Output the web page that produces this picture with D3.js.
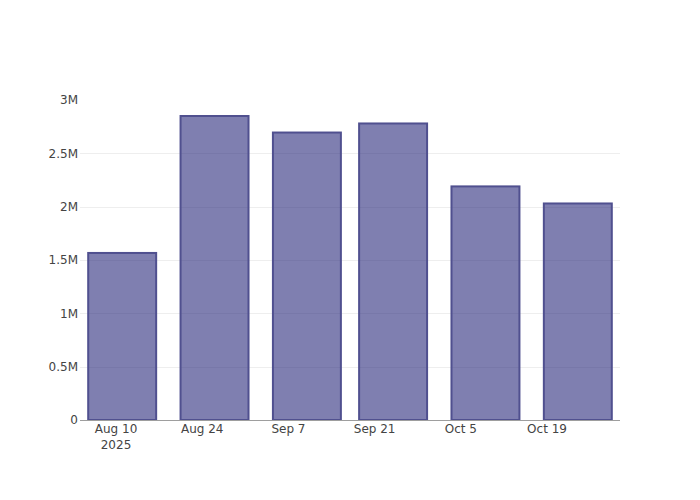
<!DOCTYPE html>
<html>
<head>
<meta charset="utf-8">
<script src="https://cdn.jsdelivr.net/npm/d3@7"></script>
<style>
  html, body { margin: 0; padding: 0; background: #fff; }
  svg { display: block; }
</style>
</head>
<body>
<svg id="chart" width="700" height="500"></svg>
<script>
const dates = ["2025-08-11", "2025-08-26", "2025-09-10", "2025-09-24", "2025-10-09", "2025-10-24"];
const values = [1566000, 2850000, 2695000, 2780000, 2190000, 2030000];
const xTickDates = ["2025-08-10", "2025-08-24", "2025-09-07", "2025-09-21", "2025-10-05", "2025-10-19"];
const xTickLabels = [["Aug 10", "2025"], ["Aug 24"], ["Sep 7"], ["Sep 21"], ["Oct 5"], ["Oct 19"]];
const yTicks = [0, 500000, 1000000, 1500000, 2000000, 2500000, 3000000];
const yTickLabels = ["0", "0.5M", "1M", "1.5M", "2M", "2.5M", "3M"];

const margin = { left: 80, right: 80, top: 100, bottom: 80 };
const W = 700, H = 500;
const svg = d3.select("#chart");
const font = "'DejaVu Sans', Verdana, sans-serif";

const parse = d3.utcParse("%Y-%m-%d");
const xd = dates.map(parse);
const DAY = 86400000;
const barSpan = 0.8 * 14 * DAY;
const pad = 1.25 * DAY;
const x = d3.scaleUtc()
  .domain([new Date(+xd[0] - barSpan / 2 - pad), new Date(+xd[xd.length - 1] + barSpan / 2 + pad)])
  .range([margin.left, W - margin.right]);
const y = d3.scaleLinear().domain([0, 3000000]).range([H - margin.bottom, margin.top]);

// gridlines
svg.append("g").selectAll("line").data(yTicks.filter(v => v > 0 && v < 3000000)).join("line")
  .attr("x1", margin.left).attr("x2", W - margin.right)
  .attr("y1", d => Math.round(y(d)) + 0.5).attr("y2", d => Math.round(y(d)) + 0.5)
  .attr("stroke", "#eee").attr("stroke-width", 1);

// bars
svg.append("g").selectAll("rect").data(values).join("rect")
  .attr("x", (d, i) => x(new Date(+xd[i] - barSpan / 2)) + 0.5)
  .attr("width", (d, i) => x(new Date(+xd[i] + barSpan / 2)) - x(new Date(+xd[i] - barSpan / 2)) - 1)
  .attr("y", d => y(d))
  .attr("height", d => y(0) - y(d))
  .attr("fill", "rgba(42,42,123,0.6)")
  .attr("stroke", "#50508f")
  .attr("stroke-width", 2);

// x axis line
svg.append("line")
  .attr("x1", margin.left).attr("x2", W - margin.right)
  .attr("y1", y(0) + 0.5).attr("y2", y(0) + 0.5)
  .attr("stroke", "#9e9e9e").attr("stroke-width", 1);

// y tick labels
svg.append("g").selectAll("text").data(yTicks).join("text")
  .attr("x", 78)
  .attr("y", d => y(d))
  .attr("dy", "0.35em")
  .attr("text-anchor", "end")
  .attr("font-family", font).attr("font-size", 12).attr("fill", "#444")
  .text((d, i) => yTickLabels[i]);

// x tick labels
const xt = svg.append("g").selectAll("text").data(xTickDates).join("text")
  .attr("x", d => x(parse(d)))
  .attr("y", 433)
  .attr("text-anchor", "middle")
  .attr("font-family", font).attr("font-size", 12).attr("fill", "#444");
xt.each(function(d, i) {
  const t = d3.select(this);
  xTickLabels[i].forEach((line, j) => {
    t.append("tspan").attr("x", x(parse(d))).attr("dy", j === 0 ? 0 : 16).text(line);
  });
});
</script>
</body>
</html>
